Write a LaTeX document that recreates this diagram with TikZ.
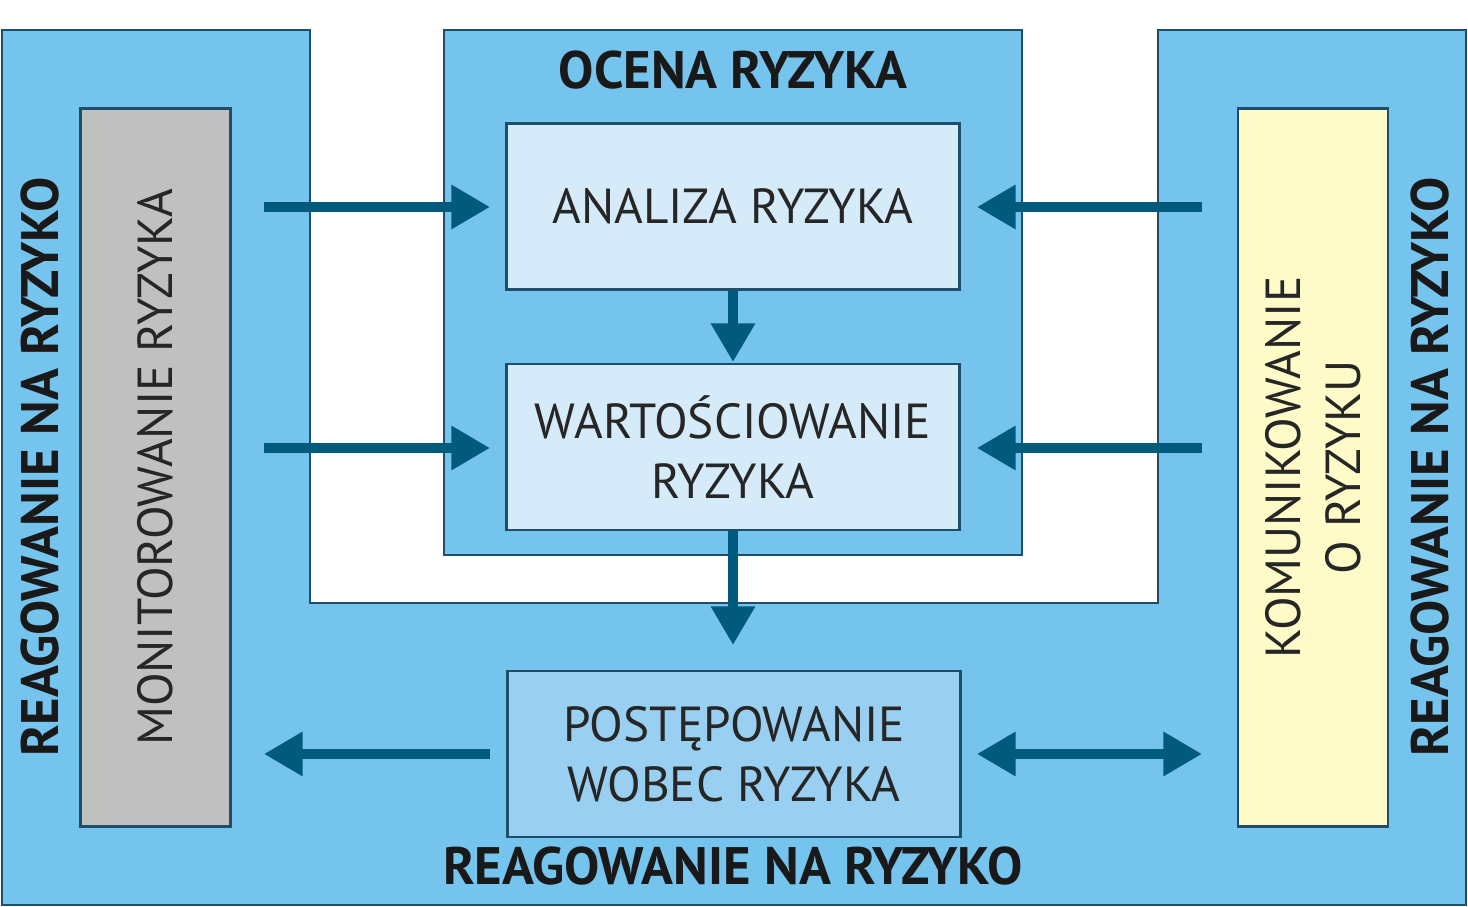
\documentclass[tikz,border=0pt]{standalone}
\usepackage{fontspec}
\setmainfont{PT Sans}
\usetikzlibrary{arrows.meta}
\definecolor{bgblue}{HTML}{75C4EE}
\definecolor{light}{HTML}{D6EBF9}
\definecolor{mid}{HTML}{99D0F2}
\definecolor{arr}{HTML}{005A7C}
\definecolor{edge}{HTML}{1F4E6B}
\definecolor{grayb}{HTML}{C0C0C0}
\definecolor{yel}{HTML}{FFFBC8}
\tikzset{
 box/.style={draw=edge, line width=0.8pt, minimum width=4.52cm, minimum height=1.66cm, align=center, font=\fontsize{14}{17}\selectfont, text=black!85},
 vbox/.style={draw=edge, line width=0.8pt, minimum width=7.17cm, minimum height=1.5cm, align=center, font=\fontsize{14}{17}\selectfont, rotate=90, text=black!85},
 ttl/.style={font=\bfseries\fontsize{15}{18}\selectfont, text=black!90},
 ar/.style={draw=arr, line width=2.6pt, -{Triangle[length=11pt,width=12pt]}},
 dar/.style={draw=arr, line width=2.6pt, {Triangle[length=11pt,width=12pt]}-{Triangle[length=11pt,width=12pt]}}
}
\begin{document}
\begin{tikzpicture}[x=0.01cm,y=-0.01cm]
\useasboundingbox (0,0) rectangle (1468,907);
\fill[white] (0,0) rectangle (1468,907);
\draw[edge, fill=bgblue, line width=0.8pt] (2,30) -- (310,30) -- (310,603) -- (1158,603) -- (1158,30) -- (1466,30) -- (1466,905) -- (2,905) -- cycle;
\draw[edge, fill=bgblue, line width=0.8pt] (444,30) rectangle (1022,555);
\node[ttl] (ocena) at (733,70) {OCENA RYZYKA};
\node[ttl] (reagB) at (733,866) {REAGOWANIE NA RYZYKO};
\node[ttl, rotate=90] (reagL) at (40,467) {REAGOWANIE NA RYZYKO};
\node[ttl, rotate=90] (reagR) at (1430,467) {REAGOWANIE NA RYZYKO};
\node[box, fill=light] (an) at (733,206.5) {ANALIZA RYZYKA};
\node[box, fill=light] (wa) at (733,447) {WARTOŚCIOWANIE\\RYZYKA};
\node[box, fill=mid] (po) at (734,754) {POSTĘPOWANIE\\WOBEC RYZYKA};
\node[vbox, fill=grayb] (mo) at (155.5,467.5) {MONITOROWANIE RYZYKA};
\node[vbox, fill=yel] (ko) at (1313,467.5) {KOMUNIKOWANIE\\O RYZYKU};
\coordinate (l1) at (264,207); \coordinate (l1e) at (490,207);
\coordinate (r1) at (1202,207); \coordinate (r1e) at (977,207);
\coordinate (l2) at (264,448); \coordinate (l2e) at (490,448);
\coordinate (r2) at (1202,448); \coordinate (r2e) at (977,448);
\coordinate (l3) at (264,754); \coordinate (l3s) at (490,754);
\coordinate (r3s) at (977,754); \coordinate (r3) at (1202,754);
\coordinate (d1) at (733,362); \coordinate (d2) at (733,645);
\draw[ar] (l1) -- (l1e);
\draw[ar] (r1) -- (r1e);
\draw[ar] (l2) -- (l2e);
\draw[ar] (r2) -- (r2e);
\draw[ar] (an.south) -- (d1);
\draw[ar] (wa.south) -- (d2);
\draw[ar] (l3s) -- (l3);
\draw[dar] (r3s) -- (r3);
\end{tikzpicture}
\end{document}
